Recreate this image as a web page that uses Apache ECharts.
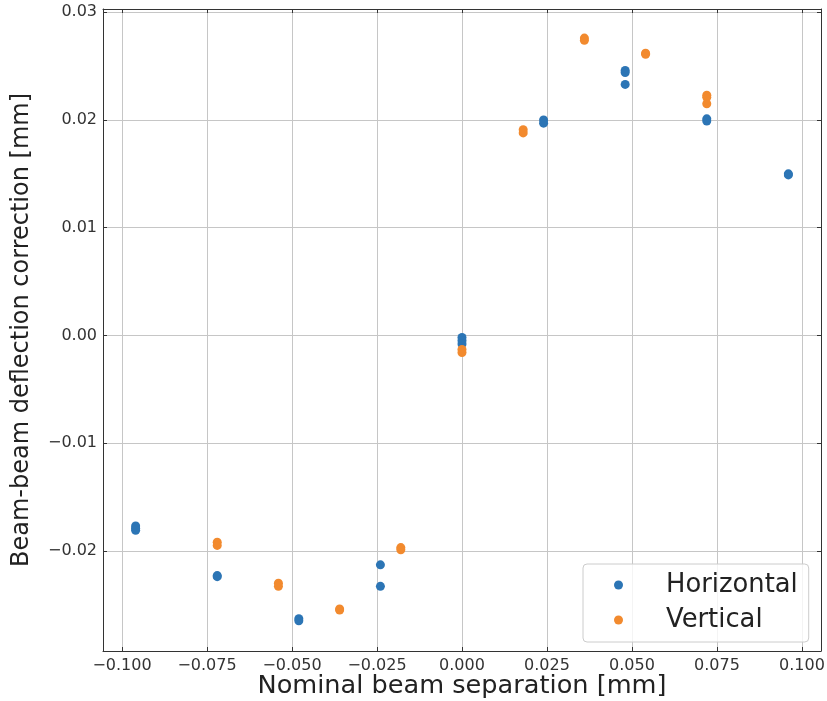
<!DOCTYPE html>
<html>
<head>
<meta charset="utf-8">
<script src="https://cdn.jsdelivr.net/npm/echarts@6/dist/echarts.min.js"></script>
<style>
  html, body { margin: 0; padding: 0; background: #fff; }
  #chart { width: 827px; height: 701px; }
</style>
</head>
<body>
<div id="chart"></div>
<script>
// Horizontal scan: nominal separation [mm] and deflection correction [mm]
const horizontalX = [-0.096, -0.096, -0.096, -0.072, -0.072, -0.048, -0.048, -0.024, -0.024,
                     0, 0, 0, 0.024, 0.024, 0.048, 0.048, 0.048, 0.072, 0.072, 0.096, 0.096];
const horizontalY = [-0.0177, -0.0179, -0.0181, -0.0223, -0.0224, -0.0263, -0.0265, -0.0213, -0.0233,
                     -0.0002, -0.0005, -0.0008, 0.0200, 0.0197, 0.0246, 0.0244, 0.0233, 0.0201, 0.0199, 0.0150, 0.0149];

// Vertical scan
const verticalX = [-0.072, -0.072, -0.054, -0.054, -0.036, -0.036, -0.018, -0.018,
                   0, 0, 0.018, 0.018, 0.036, 0.036, 0.054, 0.054, 0.072, 0.072, 0.072];
const verticalY = [-0.0192, -0.0195, -0.0230, -0.0233, -0.0254, -0.0255, -0.0197, -0.0199,
                   -0.0013, -0.0016, 0.0191, 0.0188, 0.0276, 0.0274, 0.0262, 0.0261, 0.0223, 0.0221, 0.0215];

// Tick positions
const xTicks = [-0.100, -0.075, -0.050, -0.025, 0.000, 0.025, 0.050, 0.075, 0.100];
const yTicks = [-0.02, -0.01, 0.00, 0.01, 0.02, 0.03];

const X_RANGE = [-0.1056, 0.1056];
const Y_RANGE = [-0.0293, 0.0303];

const FONT = 'DejaVu Sans';
const pairs = (xs, ys) => xs.map((x, i) => [x, ys[i]]);
const fmt = (digits) => (v) => {
  const s = Math.abs(v).toFixed(digits);
  return (v < -1e-9 ? '\u2212' : '') + s;
};

const tickStyle = { inside: true, length: 4, lineStyle: { color: '#333', width: 1 } };
const gridLine = { show: true, lineStyle: { color: '#c6c6c6', width: 1 } };

const chart = echarts.init(document.getElementById('chart'), null, { renderer: 'canvas' });
chart.setOption({
  animation: false,
  backgroundColor: '#ffffff',
  textStyle: { fontFamily: FONT },
  grid: { left: 103, right: 6, top: 9, bottom: 50, containLabel: false, outerBoundsMode: 'none' },
  legend: {
    orient: 'vertical',
    left: 583,
    top: 564,
    padding: [8, 11, 9, 31],
    itemGap: 9,
    itemWidth: 9,
    itemHeight: 9,
    icon: 'circle',
    backgroundColor: 'rgba(255,255,255,0.8)',
    borderColor: '#cccccc',
    borderWidth: 1,
    borderRadius: 4,
    textStyle: { fontFamily: FONT, fontSize: 25.8, color: '#222', padding: [0, 0, 0, 38] },
    data: ['Horizontal', 'Vertical']
  },
  xAxis: [
    {
      type: 'value', position: 'bottom', min: X_RANGE[0], max: X_RANGE[1],
      name: 'Nominal beam separation [mm]', nameLocation: 'middle', nameGap: 22,
      nameMoveOverlap: false,
      nameTextStyle: { fontFamily: FONT, fontSize: 25.6, color: '#222' },
      axisLine: { show: true, onZero: false, lineStyle: { color: '#333', width: 1 } },
      axisTick: Object.assign({ customValues: xTicks }, tickStyle),
      axisLabel: { customValues: xTicks, formatter: fmt(3), fontFamily: FONT, fontSize: 16, color: '#333', margin: 7 },
      splitLine: gridLine
    },
    {
      type: 'value', position: 'top', min: X_RANGE[0], max: X_RANGE[1],
      axisLine: { show: true, onZero: false, lineStyle: { color: '#333', width: 1 } },
      axisTick: Object.assign({ customValues: xTicks }, tickStyle),
      axisLabel: { show: false },
      splitLine: { show: false }
    }
  ],
  yAxis: [
    {
      type: 'value', position: 'left', min: Y_RANGE[0], max: Y_RANGE[1],
      name: 'Beam-beam deflection correction [mm]', nameLocation: 'middle', nameGap: 69,
      nameRotate: 90,
      nameTextStyle: { fontFamily: FONT, fontSize: 24, color: '#222' },
      axisLine: { show: true, onZero: false, lineStyle: { color: '#333', width: 1 } },
      axisTick: Object.assign({ customValues: yTicks }, tickStyle),
      axisLabel: { customValues: yTicks, formatter: fmt(2), fontFamily: FONT, fontSize: 16, color: '#333', margin: 6 },
      splitLine: gridLine
    },
    {
      type: 'value', position: 'right', min: Y_RANGE[0], max: Y_RANGE[1],
      axisLine: { show: true, onZero: false, lineStyle: { color: '#333', width: 1 } },
      axisTick: Object.assign({ customValues: yTicks }, tickStyle),
      axisLabel: { show: false },
      splitLine: { show: false }
    }
  ],
  series: [
    {
      name: 'Horizontal', type: 'scatter', xAxisIndex: 0, yAxisIndex: 0,
      symbol: 'circle', symbolSize: 9,
      itemStyle: { color: '#2c75b5', opacity: 1 },
      data: pairs(horizontalX, horizontalY)
    },
    {
      name: 'Vertical', type: 'scatter', xAxisIndex: 0, yAxisIndex: 0,
      symbol: 'circle', symbolSize: 9,
      itemStyle: { color: '#f28a2e', opacity: 1 },
      data: pairs(verticalX, verticalY)
    }
  ]
});
</script>
</body>
</html>
